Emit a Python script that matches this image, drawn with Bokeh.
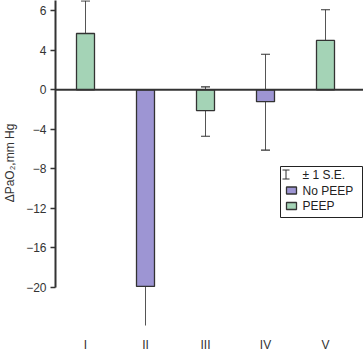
from bokeh.plotting import figure
from bokeh.models import (ColumnDataSource, Range1d, FixedTicker, Whisker, TeeHead,
                          Span, Label)
from bokeh.embed import file_html
from bokeh.resources import INLINE

# ---- data ----
categories = ["I", "II", "III", "IV", "V"]
series = ["PEEP", "No PEEP", "PEEP", "No PEEP", "PEEP"]
delta_pao2 = [5.7, -19.9, -2.1, -1.2, 5.0]
se_upper = [9.0, -15.9, 0.3, 3.6, 8.1]
se_lower = [3.7, -24.3, -4.7, -6.1, 1.4]

y_tick_values = [8, 4, 0, -4, -8, -12, -16, -20]
y_tick_labels = ["6", "4", "0", "\u22124", "\u22128", "\u221212", "\u221216", "\u221220"]

legend_labels = ["\u00b1 1 S.E.", "No PEEP", "PEEP"]

# ---- styling ----
W, H = 363, 354
LEFT, BOTTOM = 55, 29
FRAME_H = H - BOTTOM
PX_PER_UNIT_Y = 9.88
ZERO_PX = 89.3
PX_PER_CAT = 60.0
FIRST_CAT_PX = 30.0

colors = {"PEEP": "#a4d3b6", "No PEEP": "#9d95d3"}
edge = "#333333"
font = "Liberation Sans"

y_end = ZERO_PX / PX_PER_UNIT_Y
y_start = y_end - FRAME_H / PX_PER_UNIT_Y
x_start = 1 - FIRST_CAT_PX / PX_PER_CAT
x_end = x_start + (W - LEFT) / PX_PER_CAT

xs = list(range(1, len(categories) + 1))
src = ColumnDataSource(dict(
    x=xs, top=delta_pao2, upper=se_upper, lower=se_lower,
    color=[colors[s] for s in series], series=series))

p = figure(width=W, height=H, output_backend="svg", toolbar_location=None,
           x_range=Range1d(x_start, x_end), y_range=Range1d(y_start, y_end),
           min_border_left=LEFT, min_border_right=0, min_border_top=0,
           min_border_bottom=BOTTOM)
p.outline_line_color = None
p.grid.visible = False
p.background_fill_color = "white"
p.border_fill_color = "white"

p.vbar(x="x", top="top", bottom=0, width=0.3, fill_color="color",
       line_color=edge, line_width=1.3, source=src)

p.add_layout(Whisker(base="x", upper="upper", lower="lower", source=src,
                     line_color="#555555", line_width=1,
                     upper_head=TeeHead(size=9, line_color=edge, line_width=1.2),
                     lower_head=TeeHead(size=9, line_color=edge, line_width=1.2)))

p.add_layout(Span(location=0, dimension="width", line_color=edge, line_width=2))

# y axis
ya = p.yaxis[0]
ya.ticker = FixedTicker(ticks=y_tick_values)
ya.major_label_overrides = dict(zip(y_tick_values, y_tick_labels))
ya.bounds = (-20, y_end)
ya.axis_line_color = edge
ya.axis_line_width = 2
ya.major_tick_line_color = edge
ya.major_tick_line_width = 1.5
ya.major_tick_out = 5
ya.major_tick_in = 0
ya.minor_tick_line_color = None
ya.major_label_standoff = 4
ya.major_label_text_font = font
ya.major_label_text_font_size = "12px"
ya.major_label_text_color = "#333333"
ya.axis_label = "\u0394PaO\u2082,mm Hg"
ya.axis_label_text_font = font
ya.axis_label_text_font_size = "12px"
ya.axis_label_text_font_style = "normal"
ya.axis_label_text_color = "#333333"
ya.axis_label_standoff = 6

# x axis
xa = p.xaxis[0]
xa.ticker = FixedTicker(ticks=xs)
xa.major_label_overrides = dict(zip(xs, categories))
xa.axis_line_color = None
xa.major_tick_line_color = None
xa.minor_tick_line_color = None
xa.major_label_standoff = 6
xa.major_label_text_font = font
xa.major_label_text_font_size = "12px"
xa.major_label_text_color = "#333333"

# ---- legend (drawn by hand, screen pixel positions converted to data) ----
def dx(sx):
    return x_start + (sx - LEFT) / PX_PER_CAT

def dy(sy):
    return y_end - sy / PX_PER_UNIT_Y

p.quad(left=[dx(280)], right=[dx(362)], top=[dy(166)], bottom=[dy(217)],
       fill_color="white", line_color="#222222", line_width=1)

rows = [174, 190, 205.5]
# error-bar symbol
ix = 285.5
p.segment(x0=[dx(ix), dx(ix - 3.5), dx(ix - 3.5)], y0=[dy(169.5), dy(169.5), dy(178.5)],
          x1=[dx(ix), dx(ix + 3.5), dx(ix + 3.5)], y1=[dy(178.5), dy(169.5), dy(178.5)],
          line_color=edge, line_width=1)
# swatches
for row, key in zip(rows[1:], ["No PEEP", "PEEP"]):
    p.quad(left=[dx(286)], right=[dx(296)], top=[dy(row - 3.5)], bottom=[dy(row + 3.5)],
           fill_color=colors[key], line_color=edge, line_width=1.3)
for row, txt in zip(rows, legend_labels):
    p.add_layout(Label(x=dx(302), y=dy(row), text=txt, text_font=font,
                       text_font_size="12px", text_color="#222222",
                       text_baseline="middle", text_align="left"))

open("out.html", "w").write(file_html(p, INLINE))
